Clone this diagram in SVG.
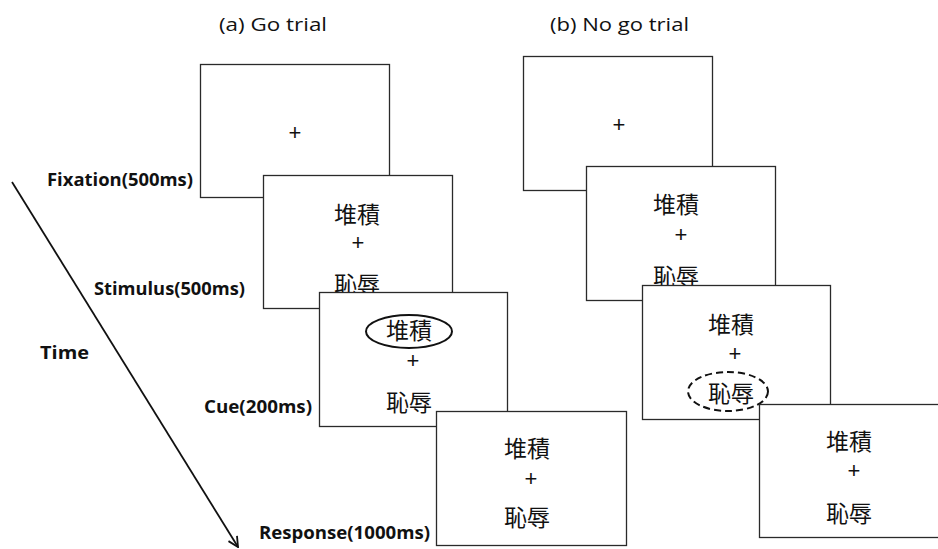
<svg xmlns="http://www.w3.org/2000/svg" width="938" height="549" viewBox="0 0 938 549">
<style>
.box{fill:#fff;stroke:#2a2a2a;stroke-width:1.3}
.cjk{font-family:"Noto Sans CJK TC","Noto Sans CJK SC",sans-serif;font-size:23px;fill:#111;text-anchor:middle;dominant-baseline:central}
.plus{font-family:"Liberation Sans",Arial,sans-serif;font-size:22px;fill:#111;text-anchor:middle;dominant-baseline:central}
.lbl{font-family:"Open Sans","Liberation Sans",sans-serif;font-weight:bold;font-size:18px;fill:#111}
.title{font-family:"Open Sans","Liberation Sans",sans-serif;font-size:19px;fill:#111}
</style>
<defs>
<marker id="arr" viewBox="0 0 12 12" refX="11" refY="6" markerWidth="12" markerHeight="12" markerUnits="userSpaceOnUse" orient="auto">
<path d="M1,1 L11,6 L1,11" fill="none" stroke="#111" stroke-width="1.8"/>
</marker>
</defs>
<rect width="938" height="549" fill="#fff"/>
<text class="title" x="219" y="31" textLength="108" lengthAdjust="spacingAndGlyphs">(a) Go trial</text>
<text class="title" x="550" y="31" textLength="139" lengthAdjust="spacingAndGlyphs">(b) No go trial</text>
<g id="connectors">
<line x1="12" y1="182" x2="238" y2="547" stroke="#111" stroke-width="1.8" marker-end="url(#arr)"/>
</g>
<g id="labels">
<text class="lbl" x="47" y="186" textLength="146" lengthAdjust="spacingAndGlyphs">Fixation(500ms)</text>
<text class="lbl" x="94" y="295" textLength="151" lengthAdjust="spacingAndGlyphs">Stimulus(500ms)</text>
<text class="lbl" x="40" y="359" textLength="49" lengthAdjust="spacingAndGlyphs">Time</text>
<text class="lbl" x="204" y="413" textLength="108" lengthAdjust="spacingAndGlyphs">Cue(200ms)</text>
<text class="lbl" x="259" y="539" textLength="171" lengthAdjust="spacingAndGlyphs">Response(1000ms)</text>
</g>
<g id="go-fixation">
<rect class="box" x="200.5" y="64.5" width="189" height="133"/>
<text class="plus" x="295" y="132">+</text>
</g>
<g id="go-stimulus">
<rect class="box" x="263.5" y="175.5" width="189" height="133"/>
<text class="cjk" x="357" y="213">堆積</text>
<text class="plus" x="358" y="242">+</text>
<text class="cjk" x="357" y="283">恥辱</text>
</g>
<g id="go-cue">
<rect class="box" x="319.5" y="292.5" width="188" height="134"/>
<ellipse cx="409" cy="331.5" rx="43" ry="16.5" fill="none" stroke="#111" stroke-width="2"/>
<text class="cjk" x="409" y="329">堆積</text>
<text class="plus" x="413" y="360">+</text>
<text class="cjk" x="409" y="401">恥辱</text>
</g>
<g id="go-response">
<rect class="box" x="436.5" y="411.5" width="190" height="134"/>
<text class="cjk" x="527" y="447">堆積</text>
<text class="plus" x="531" y="478">+</text>
<text class="cjk" x="527" y="516">恥辱</text>
</g>
<g id="nogo-fixation">
<rect class="box" x="523.5" y="56.5" width="189" height="134"/>
<text class="plus" x="619" y="124">+</text>
</g>
<g id="nogo-stimulus">
<rect class="box" x="586.5" y="166.5" width="189" height="134"/>
<text class="cjk" x="676" y="203">堆積</text>
<text class="plus" x="681" y="234">+</text>
<text class="cjk" x="676" y="275">恥辱</text>
</g>
<g id="nogo-cue">
<rect class="box" x="642.5" y="285.5" width="188" height="134"/>
<text class="cjk" x="731" y="323">堆積</text>
<text class="plus" x="735" y="353">+</text>
<ellipse cx="728" cy="391.5" rx="40" ry="19.5" fill="none" stroke="#111" stroke-width="2" stroke-dasharray="7,4"/>
<text class="cjk" x="731" y="392">恥辱</text>
</g>
<g id="nogo-response">
<rect class="box" x="759.5" y="404.5" width="190" height="133"/>
<text class="cjk" x="849" y="440">堆積</text>
<text class="plus" x="854" y="470">+</text>
<text class="cjk" x="849" y="512">恥辱</text>
</g>
</svg>
